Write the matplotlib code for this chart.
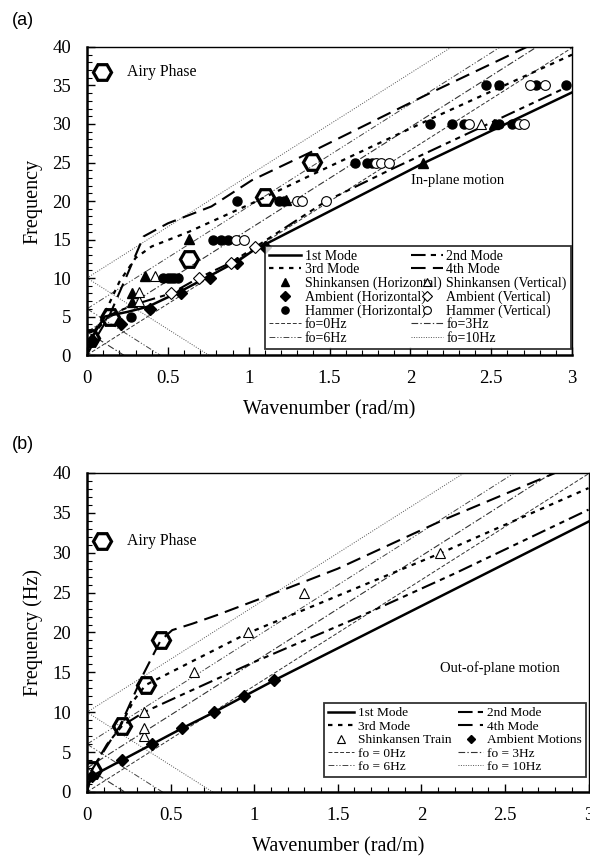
import numpy as np
import matplotlib
matplotlib.use("Agg")
import matplotlib.pyplot as plt
from matplotlib.ticker import MultipleLocator

plt.rcParams['font.family'] = ['Liberation Serif', 'DejaVu Serif']

# ---------------- (a) in-plane motion ----------------
a_mode1_k = [0, 0.01, 0.05, 0.11, 0.25, 0.38, 0.59, 0.77, 0.94, 1.03, 2.08, 3.0]
a_mode1_f = [0, 1.1, 3.0, 5.0, 5.6, 6.3, 8.4, 10.4, 12.3, 13.6, 24.9, 34.1]
a_mode2_k = [0, 0.02, 0.14, 0.30, 0.52, 0.69, 0.89, 1.04, 1.48, 1.87, 3.0]
a_mode2_f = [0, 2.2, 5.2, 6.6, 8.0, 10.0, 12.0, 14.0, 20.0, 24.0, 35.1]
a_mode3_k = [0.02, 0.10, 0.20, 0.30, 0.40, 0.63, 1.02, 1.40, 2.12, 3.0]
a_mode3_f = [2.2, 5.0, 9.5, 12.6, 14.1, 16.0, 19.7, 23.5, 30.6, 39.0]
a_mode4_k = [0, 0.05, 0.14, 0.25, 0.35, 0.50, 0.77, 1.02, 1.39, 2.12, 2.72]
a_mode4_f = [0, 2.0, 5.2, 10.5, 15.4, 17.1, 19.3, 22.7, 26.4, 34.0, 40.0]

a_shin_h_k = [0.28, 0.28, 0.36, 0.63, 1.23, 2.08, 2.52]
a_shin_h_f = [6.9, 8.0, 10.2, 15.1, 20.1, 25.0, 30.0]
a_shin_v_k = [0.32, 0.32, 0.42, 2.44]
a_shin_v_f = [7.0, 8.2, 10.2, 30.0]
a_amb_h_k = [0.03, 0.21, 0.39, 0.58, 0.76, 0.93, 1.10]
a_amb_h_f = [2.0, 4.0, 6.0, 8.0, 10.0, 12.0, 14.0]
a_amb_v_k = [0.52, 0.69, 0.89, 1.04]
a_amb_v_f = [8.0, 10.0, 12.0, 14.0]
a_ham_h_k = [0.27, 0.47, 0.50, 0.52, 0.54, 0.56, 0.78, 0.83, 0.87, 0.93, 1.19, 1.22,
             1.66, 1.73, 1.76, 2.12, 2.26, 2.33, 2.55, 2.63, 2.47, 2.55, 2.78, 2.96]
a_ham_h_f = [5, 10, 10, 10, 10, 10, 15, 15, 15, 20, 20, 20,
             25, 25, 25, 30, 30, 30, 30, 30, 35, 35, 35, 35]
a_ham_v_k = [0.92, 0.97, 1.30, 1.33, 1.48, 1.79, 1.82, 1.87, 2.36, 2.67, 2.70, 2.74, 2.83]
a_ham_v_f = [15, 15, 20, 20, 20, 25, 25, 25, 30, 30, 30, 35, 35]
a_airy_k = [0.02, 0.14, 0.63, 1.10, 1.39]
a_airy_f = [2.2, 5.0, 12.5, 20.5, 25.1]

# ---------------- (b) out-of-plane motion ----------------
b_mode1_k = [0, 0.01, 0.03, 0.21, 0.39, 0.57, 0.76, 0.94, 1.12, 3.0]
b_mode1_f = [0, 1.0, 2.0, 4.0, 6.0, 8.0, 10.0, 12.0, 14.0, 33.9]
b_mode2_k = [0, 0.03, 0.12, 0.21, 0.34, 0.60, 1.00, 1.59, 2.20, 3.0]
b_mode2_f = [0, 2.8, 6.0, 8.3, 10.0, 12.5, 16.3, 21.6, 27.4, 35.4]
b_mode3_k = [0.20, 0.28, 0.35, 0.64, 0.96, 1.50, 2.11, 3.0]
b_mode3_f = [8.3, 11.5, 13.4, 16.5, 19.9, 24.6, 29.9, 38.1]
b_mode4_k = [0, 0.03, 0.20, 0.34, 0.44, 0.51, 0.63, 0.78, 1.07, 1.50, 2.13, 2.80]
b_mode4_f = [0, 2.8, 8.4, 14.9, 19.0, 20.3, 21.1, 22.2, 24.5, 28.0, 34.1, 40.0]
b_shin_k = [0.34, 0.34, 0.34, 0.64, 0.96, 1.30, 2.11]
b_shin_f = [7.0, 8.0, 10.0, 15.0, 20.0, 25.0, 30.0]
b_amb_k = [0.03, 0.21, 0.39, 0.57, 0.76, 0.94, 1.12]
b_amb_f = [2.0, 4.0, 6.0, 8.0, 10.0, 12.0, 14.0]
b_airy_k = [0.03, 0.21, 0.35, 0.44]
b_airy_f = [2.8, 8.3, 13.4, 19.0]

# reference lines f = fo +/- v*k
fo_values = [0, 3, 6, 10]
v_phase = 13.3

SANS = ['Liberation Sans', 'DejaVu Sans']

mode_styles = [
    dict(color='black', lw=1.8, ls='-'),
    dict(color='black', lw=1.5, ls=(0, (7, 2.5, 2.5, 2.5, 2.5, 2.5))),
    dict(color='black', lw=1.6, ls=(0, (2, 2.5))),
    dict(color='black', lw=1.5, ls=(0, (7, 3.5))),
]
fo_styles = [
    dict(color='#333333', lw=0.7, ls=(0, (4, 2))),
    dict(color='#333333', lw=0.8, ls=(0, (6, 2, 1.2, 2))),
    dict(color='#444444', lw=0.7, ls=(0, (6, 2, 1.2, 2, 1.2, 2))),
    dict(color='#555555', lw=0.7, ls=(0, (1, 1.5))),
]

fig = plt.figure(figsize=(5.90, 8.59), dpi=100)
ax_a = fig.add_axes([0.1475, 0.5867, 0.822, 0.3586])
ax_b = fig.add_axes([0.1475, 0.0780, 0.850, 0.3714])


def draw_fo_lines(ax):
    k = np.array([0.0, 3.0])
    handles = []
    for fo, st in zip(fo_values, fo_styles):
        h, = ax.plot(k, fo + v_phase * k, **st)
        handles.append(h)
        if fo > 0:
            ax.plot(k, fo - v_phase * k, **st)
    return handles


def style_axes(ax, ylabel):
    ax.set_xlim(0, 3)
    ax.set_ylim(0, 40)
    ax.xaxis.set_major_locator(MultipleLocator(0.5))
    ax.xaxis.set_minor_locator(MultipleLocator(0.1))
    ax.yaxis.set_major_locator(MultipleLocator(5))
    ax.yaxis.set_minor_locator(MultipleLocator(1))
    ax.tick_params(which='both', direction='in', top=False, right=False,
                   labelsize=13.5)
    ax.tick_params(axis='x', which='major', pad=11)
    ax.tick_params(axis='y', which='major', pad=11.5)
    ax.tick_params(which='major', length=6, width=1.0)
    ax.tick_params(which='minor', length=3.5, width=0.8)
    ax.xaxis.set_major_formatter(plt.FuncFormatter(lambda v, p: f'{v:g}'))
    for s in ['left', 'bottom']:
        ax.spines[s].set_linewidth(1.8)
    for s in ['top', 'right']:
        ax.spines[s].set_linewidth(1.0)
    ax.set_xlabel('Wavenumber (rad/m)', fontsize=14.5, labelpad=9)
    ax.set_ylabel(ylabel, fontsize=14.5, labelpad=7)


hex_kw = dict(ls='none', marker='H', ms=13, mfc='none', mec='black', mew=2.3, zorder=6)

# ---- panel (a)
fo_h = draw_fo_lines(ax_a)
m_h = []
for kk, ff, st in zip([a_mode1_k, a_mode2_k, a_mode3_k, a_mode4_k],
                      [a_mode1_f, a_mode2_f, a_mode3_f, a_mode4_f], mode_styles):
    h, = ax_a.plot(kk, ff, **st)
    m_h.append(h)
ax_a.plot(a_airy_k, a_airy_f, **hex_kw)
sh_h, = ax_a.plot(a_shin_h_k, a_shin_h_f, ls='none', marker='^', ms=7.5, color='black', zorder=5)
sv_h, = ax_a.plot(a_shin_v_k, a_shin_v_f, ls='none', marker='^', ms=7.5, mfc='white', mec='black', mew=0.8, zorder=5)
ah_h, = ax_a.plot(a_amb_h_k, a_amb_h_f, ls='none', marker='D', ms=6, color='black', zorder=5)
av_h, = ax_a.plot(a_amb_v_k, a_amb_v_f, ls='none', marker='D', ms=6, mfc='white', mec='black', mew=0.8, zorder=5)
hh_h, = ax_a.plot(a_ham_h_k, a_ham_h_f, ls='none', marker='o', ms=6.5, color='black', zorder=5)
hv_h, = ax_a.plot(a_ham_v_k, a_ham_v_f, ls='none', marker='o', ms=7, mfc='white', mec='black', mew=0.8, zorder=5)
style_axes(ax_a, 'Frequency')

leg_a = ax_a.legend(
    [m_h[0], m_h[2], sh_h, ah_h, hh_h, fo_h[0], fo_h[2],
     m_h[1], m_h[3], sv_h, av_h, hv_h, fo_h[1], fo_h[3]],
    ['1st Mode', '3rd Mode', 'Shinkansen (Horizontal)', 'Ambient (Horizontal)',
     'Hammer (Horizontal)', 'fo=0Hz', 'fo=6Hz',
     '2nd Mode', '4th Mode', 'Shinkansen (Vertical)', 'Ambient (Vertical)',
     'Hammer (Vertical)', 'fo=3Hz', 'fo=10Hz'],
    ncol=2, loc='lower right', bbox_to_anchor=(0.998, 0.02), fontsize=10,
    frameon=True, fancybox=False, edgecolor='black', handlelength=2.3,
    handletextpad=0.25, columnspacing=-2.2, labelspacing=0.03, borderpad=0.3,
    borderaxespad=0.0, markerscale=0.8)
leg_a.get_frame().set_linewidth(1.3)

ax_a.plot([0.09], [36.8], **hex_kw)
ax_a.text(0.25, 36.8, 'Airy Phase', fontsize=11.3, va='center', ha='left')
ax_a.text(2.29, 22.7, 'In-plane motion', fontsize=10.5, va='center', ha='center')
fig.text(0.02, 0.976, '(a)', fontsize=13, family=SANS, va='center')

# ---- panel (b)
fo_hb = draw_fo_lines(ax_b)
mb_h = []
for kk, ff, st in zip([b_mode1_k, b_mode2_k, b_mode3_k, b_mode4_k],
                      [b_mode1_f, b_mode2_f, b_mode3_f, b_mode4_f], mode_styles):
    h, = ax_b.plot(kk, ff, **st)
    mb_h.append(h)
ax_b.plot(b_airy_k, b_airy_f, **hex_kw)
st_h, = ax_b.plot(b_shin_k, b_shin_f, ls='none', marker='^', ms=7.5, mfc='white', mec='black', mew=0.8, zorder=5)
am_h, = ax_b.plot(b_amb_k, b_amb_f, ls='none', marker='D', ms=6, color='black', zorder=5)
style_axes(ax_b, 'Frequency (Hz)')

leg_b = ax_b.legend(
    [mb_h[0], mb_h[2], st_h, fo_hb[0], fo_hb[2],
     mb_h[1], mb_h[3], am_h, fo_hb[1], fo_hb[3]],
    ['1st Mode', '3rd Mode', 'Shinkansen Train', 'fo = 0Hz', 'fo = 6Hz',
     '2nd Mode', '4th Mode', 'Ambient Motions', 'fo = 3Hz', 'fo = 10Hz'],
    ncol=2, loc='lower right', bbox_to_anchor=(0.995, 0.047), fontsize=9.6,
    frameon=True, fancybox=False, edgecolor='black', handlelength=1.9,
    handletextpad=0.3, columnspacing=0.5, labelspacing=0.08, borderpad=0.3,
    borderaxespad=0.0, markerscale=0.7)
leg_b.get_frame().set_linewidth(1.3)

ax_b.plot([0.088], [31.5], **hex_kw)
ax_b.text(0.24, 31.5, 'Airy Phase', fontsize=11.3, va='center', ha='left')
ax_b.text(2.47, 15.5, 'Out-of-plane motion', fontsize=10.5, va='center', ha='center')
fig.text(0.02, 0.483, '(b)', fontsize=13, family=SANS, va='center')

fig.savefig('out.png', dpi=100)
